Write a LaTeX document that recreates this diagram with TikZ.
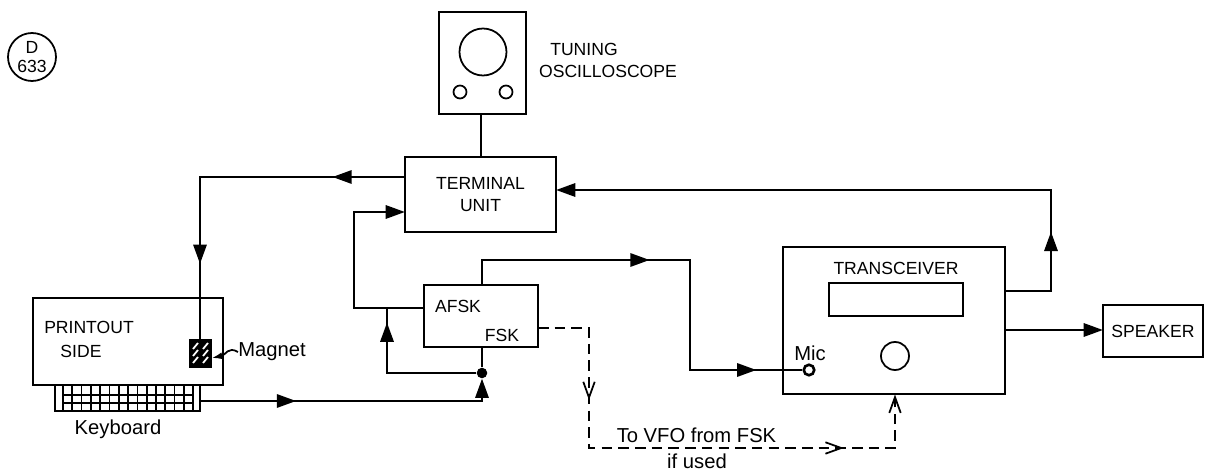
\documentclass[tikz,border=0pt]{standalone}
\usepackage{fontspec}
\setmainfont{Liberation Sans}
\usepackage{tikz}
\usetikzlibrary{arrows.meta,decorations.markings}
\tikzset{
  wire/.style={line width=1.5pt,line join=miter},
  thinw/.style={line width=1pt},
  dsh/.style={line width=1.3pt,dash pattern=on 6pt off 3.5pt},
  blk/.style={draw,line width=1.5pt,inner sep=0pt,align=center},
  lbl/.style={inner sep=0pt,align=center,font=\fontsize{10}{13}\selectfont},
  lcl/.style={inner sep=0pt,align=center,font=\fontsize{11.5}{13}\selectfont},
  endtip/.style={-{Triangle[length=11pt,width=7.5pt]}},
  solidtip/.style={postaction={decorate,decoration={markings,mark=at position #1 with {\arrow{Triangle[length=11pt,width=7.5pt]}}}}},
  opentip/.style={postaction={decorate,decoration={markings,mark=at position #1 with {\arrow[solid,line width=1pt]{Straight Barb[length=9pt,width=6.5pt]}}}}},
  dot/.style={circle,fill,inner sep=0pt,minimum size=6pt}
}
\newcommand{\kbdgrid}{%
  \foreach \gx in {63,72.3,...,194} {\draw[thinw] (\gx,385) -- (\gx,411);}
  \foreach \gy in {395,403} {\draw[thinw] (63,\gy) -- (194,\gy);}
}
\begin{document}
\begin{tikzpicture}[x=0.2mm,y=-0.2mm,font=\fontsize{10}{13}\selectfont]
\useasboundingbox (0,0) rectangle (1206,470);
% sheet mark
\draw[thinw] (32,57) circle (24);
\node[lbl] (dlbl) at (32,47) {D};
\node[lbl] (numlbl) at (32,66) {633};
% oscilloscope
\node[blk,minimum width=17.4mm,minimum height=20.4mm] (scope) at (482.5,63) {};
\draw[thinw] (483,52) circle (23.5);
\draw[thinw] (460,92) circle (6.5);
\draw[thinw] (506,92) circle (6.5);
\node[lbl] (tunlbl) at (584,49) {TUNING};
\node[lbl] (osclbl) at (608,71) {OSCILLOSCOPE};
% main blocks
\node[blk,minimum width=30.2mm,minimum height=15mm] (term) at (480.5,194.5) {TERMINAL\\UNIT};
\node[blk,minimum width=22.8mm,minimum height=12.4mm] (afsk) at (481,316) {};
\node[lbl] (afsklbl) at (458,306) {AFSK};
\node[lbl] (fsklbl) at (502,335) {FSK};
\node[blk,minimum width=44.4mm,minimum height=29.4mm] (trx) at (894,320.5) {};
\node[lbl] (trxlbl) at (896,268) {TRANSCEIVER};
\node[blk,minimum width=26.8mm,minimum height=6.6mm] (disp) at (896,299.5) {};
\draw[thinw] (895,356) circle (14);
\node[lcl] (miclbl) at (810,353) {Mic};
\node[blk,circle,minimum size=2.1mm,fill=white] (mic) at (809,370) {};
\node[blk,minimum width=20mm,minimum height=10.4mm] (spk) at (1153,331) {SPEAKER};
% printer and keyboard
\node[blk,minimum width=38mm,minimum height=17.4mm] (prt) at (128,341.5) {};
\node[lbl] (prtlbl) at (89,327) {PRINTOUT};
\node[lbl] (sidelbl) at (81,351) {SIDE};
\node[blk,minimum width=29mm,minimum height=5.2mm] (kbd) at (127.5,398) {};
\kbdgrid
\node[lcl] (kbdlbl) at (118,429) {Keyboard};
\node[blk,fill=black,minimum width=4mm,minimum height=5.4mm] (mag) at (200.5,353.5) {};
\foreach \hy in {349,356,363} {
  \draw[white,line width=1pt] (193,\hy) -- (198,\hy-6);
  \draw[white,line width=1pt] (203,\hy) -- (208,\hy-6);
}
\node[lcl] (maglbl) at (272,352) {Magnet};
\draw[thinw,-{Latex[length=6pt,width=4pt]}] (maglbl.west) .. controls (228,346) and (226,355) .. (mag.east |- 0,358);
% junctions
\coordinate (tuL) at (405,177);
\coordinate (tuI) at (405,212);
\coordinate (tuR) at (556,190);
\coordinate (afL) at (424,308);
\coordinate (afT) at (482,285);
\coordinate (afB) at (482,347);
\coordinate (afF) at (538,328);
\coordinate (kbO) at (200,401);
\coordinate (trA) at (1005,291);
\coordinate (trS) at (1005,330);
\coordinate (spI) at (1103,330);
\coordinate (trB) at (895,394);
\node[dot] (jn) at (482,373) {};
\coordinate (br2) at (387,308);
% connectors
\draw[wire] (scope.south -| 481,0) -- (term.north -| 481,0);
\draw[wire,solidtip=0.198,solidtip=0.796] (tuL) -- (200,177) -- (mag.north -| 200,0);
\draw[wire,endtip] (afL) -- (354,308) -- (354,212) -- (tuI);
\draw[wire,solidtip=0.423,solidtip=0.899] (afT) -- (482,260) -- (690,260) -- (690,370) -- (mic);
\draw[wire,endtip,solidtip=0.164] (trA) -- (1051,291) -- (1051,190) -- (tuR);
\draw[wire,endtip] (trS) -- (spI);
\draw[wire,endtip,solidtip=0.316] (kbO) -- (482,401) -- (jn);
\draw[wire] (afB) -- (jn);
\draw[wire,solidtip=0.906] (jn) -- (387,373) -- (br2);
% dashed FSK path
\draw[dsh,opentip=0.232,opentip=0.802,opentip=0.999] (afF) -- (589,328) -- (589,448) -- (895,448) -- (trB);
\node[lcl] (vfolbl) at (696.5,435) {To VFO from FSK};
\node[lcl] (usedlbl) at (697,461) {if used};
\end{tikzpicture}
\end{document}
